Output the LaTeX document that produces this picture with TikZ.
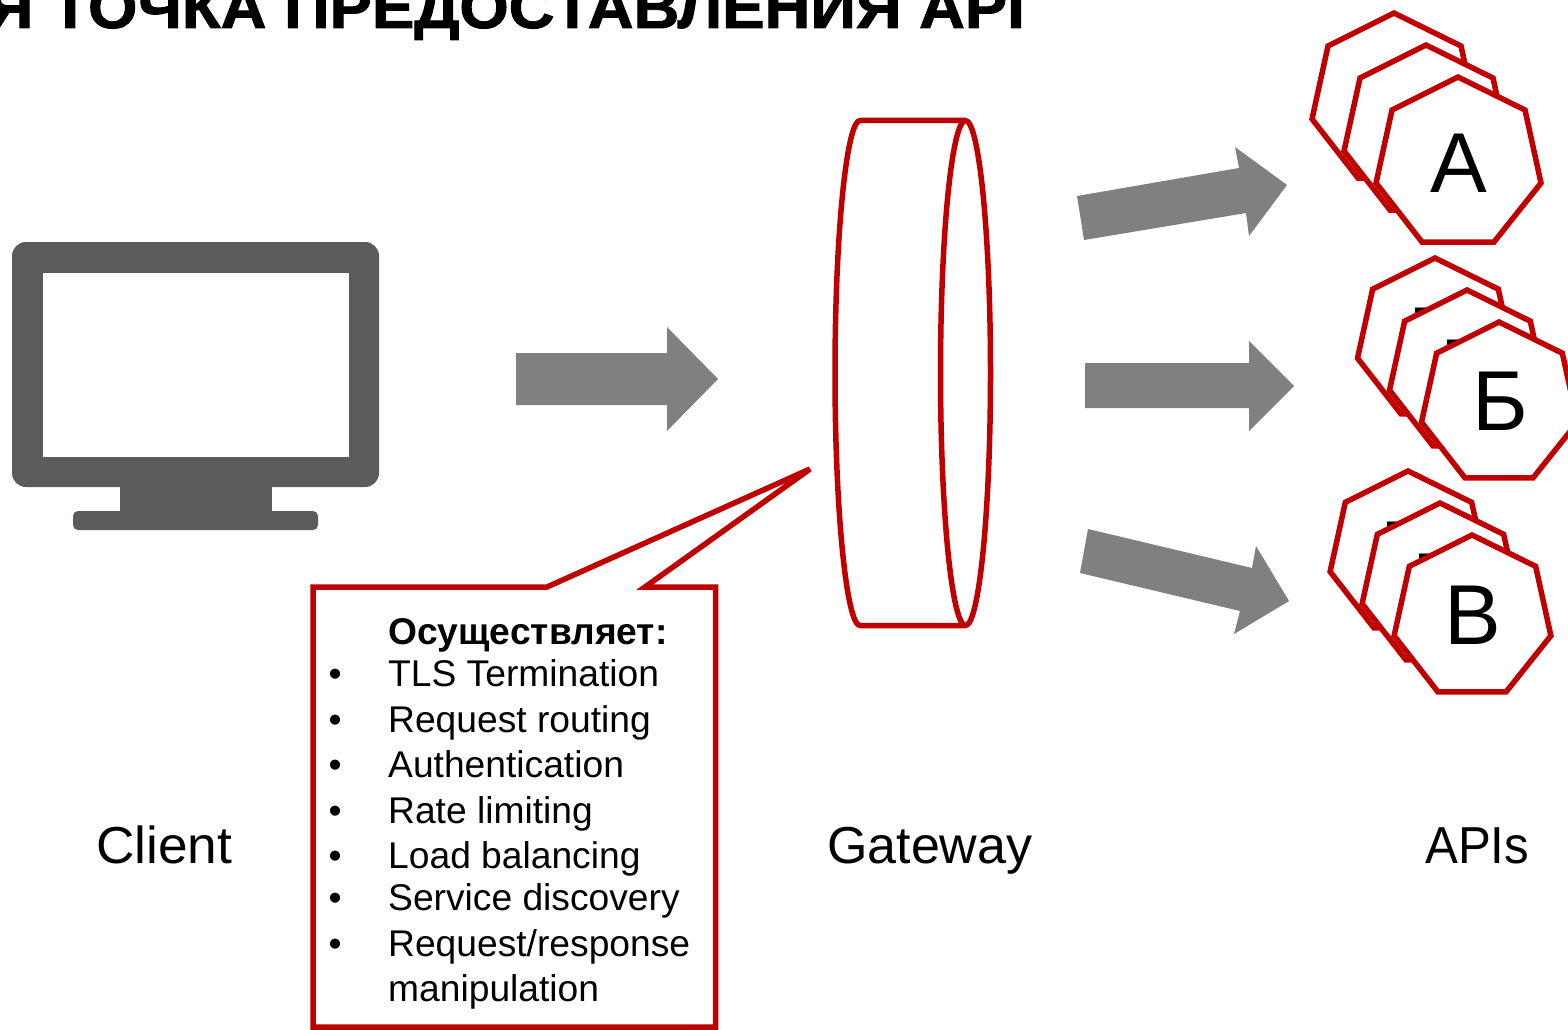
\documentclass[tikz,border=0pt]{standalone}
\usepackage{fontspec}
\usepackage{graphicx}
\setmainfont{Liberation Sans}
\newfontfamily\titlefont[FakeBold=1.6]{Liberation Sans Bold}
\definecolor{redline}{HTML}{C00000}
\definecolor{arrowgrey}{HTML}{808080}
\definecolor{screengrey}{HTML}{5A5C5B}
\tikzset{
  redshape/.style={draw=redline,line width=5.5pt,fill=white,line join=miter},
  heptashape/.style={redshape,line width=5.5pt},
  blockarrow/.style={fill=arrowgrey,draw=none},
  listline/.style={anchor=base west,inner sep=0pt,font=\fontsize{37.2}{37.2}\selectfont},
  biglabel/.style={anchor=base west,inner sep=0pt,font=\fontsize{52}{52}\selectfont},
  letter/.style={anchor=base,inner sep=0pt,font=\fontsize{85}{85}\selectfont}
}
\newcommand{\hepta}[4]{% top x, top y, scale, letter
  \begin{scope}[shift={(#1,#2)}]
    \draw[heptashape] (0,0) -- (#3*67,#3*33) -- (#3*83,#3*106) -- (#3*36,#3*165)
      -- (-#3*36,#3*165) -- (-#3*82,#3*106) -- (-#3*66,#3*33) -- cycle;
    \node[letter] at (1,#3*115) {#4};
  \end{scope}}
\begin{document}
\begin{tikzpicture}[x=1pt,y=-1pt]
\clip (0,0) rectangle (1568,1030);
\fill[white] (0,0) rectangle (1568,1030);
% title
\node[anchor=base east,inner sep=0pt] (title) at (1025,28)
  {\resizebox{1037pt}{\height}{\fontsize{60}{60}\selectfont\titlefont Я ТОЧКА ПРЕДОСТАВЛЕНИЯ API}};
% monitor
\fill[screengrey,rounded corners=14pt] (12,242) rectangle (379,487);
\fill[screengrey] (120,480) rectangle (272,515);
\fill[screengrey,rounded corners=5pt] (73,511) rectangle (318,530);
\fill[white] (42.5,272.5) rectangle (348.5,456.5);
% arrows
\fill[blockarrow] (516,353) -- (667,353) -- (667,327) -- (718,379) -- (667,431) -- (667,405) -- (516,405) -- cycle;
\fill[blockarrow] (1077,196) -- (1239,168) -- (1235,147) -- (1287,185) -- (1249,236) -- (1246,213) -- (1084,240) -- cycle;
\fill[blockarrow] (1085,363) -- (1249,363) -- (1249,341) -- (1294,386) -- (1249,431) -- (1249,408) -- (1085,408) -- cycle;
\fill[blockarrow] (1088,529) -- (1252,568) -- (1256,546) -- (1289,601) -- (1234,634) -- (1240,611) -- (1080,573) -- cycle;
% gateway
\draw[redshape,line join=round] (966,120.5) -- (860,120.5)
  .. controls (846.7,120.5) and (835,233.7) .. (835,373)
  .. controls (835,512.3) and (846.7,625.5) .. (860,625.5) -- (966,625.5);
\draw[redshape,line join=round] (965.5,120.5)
  .. controls (952,120.5) and (940.5,233.7) .. (940.5,373)
  .. controls (940.5,512.3) and (952,625.5) .. (965.5,625.5)
  .. controls (979,625.5) and (990.5,512.3) .. (990.5,373)
  .. controls (990.5,233.7) and (979,120.5) .. (965.5,120.5) -- cycle;
% callout
\draw[redshape] (313,587) -- (547,587) -- (810,469) -- (645,587) -- (715.5,587) -- (715.5,1027) -- (313,1027) -- cycle;
\node[listline,font=\fontsize{37.2}{37.2}\selectfont\bfseries] (head) at (388,644) {Осуществляет:};
\foreach \yy/\tt in {686/TLS Termination,732/Request routing,777/Authentication,823/Rate limiting,868/Load balancing,910/Service discovery,956/Request\slash response}{
  \node[listline] at (328.5,\yy) {•};
  \node[listline] at (388,\yy) {\tt};
}
\node[listline] at (388,1001) {manipulation};
% APIs
\hepta{1394}{13}{1}{А}
\hepta{1426}{45}{1}{А}
\hepta{1458}{77}{1}{А}
\hepta{1435}{258}{0.945}{Б}
\hepta{1467}{290}{0.945}{Б}
\hepta{1499}{322}{0.945}{Б}
\hepta{1408}{471}{0.95}{В}
\hepta{1440}{503}{0.95}{В}
\hepta{1472}{535}{0.95}{В}
% labels
\node[biglabel] (client) at (96,863) {\resizebox{136pt}{\height}{Client}};
\node[biglabel] (gateway) at (827,863) {Gateway};
\node[biglabel] (apis) at (1425,863) {\resizebox{104pt}{\height}{APIs}};
\end{tikzpicture}
\end{document}
